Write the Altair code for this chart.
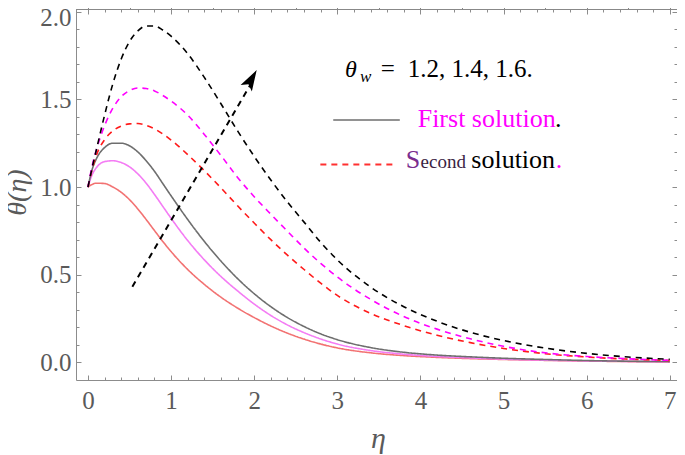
import altair as alt
import pandas as pd

# ---------------- data ----------------
eta = [0, 0.05, 0.1, 0.2, 0.3, 0.4, 0.5, 0.6, 0.7, 0.8, 0.9, 1.0, 1.2, 1.4, 1.6,
       1.8, 2.0, 2.2, 2.4, 2.6, 2.8, 3.0, 3.4, 3.8, 4.2, 4.6, 5.0, 5.5, 6.0, 6.5, 7.0]

# first solution (solid), theta_w = 1.2, 1.4, 1.6
first_12 = [1.0, 1.015, 1.022, 1.02, 1.0, 0.97, 0.928, 0.875, 0.815, 0.752, 0.69, 0.632,
            0.53, 0.445, 0.372, 0.31, 0.256, 0.208, 0.167, 0.133, 0.105, 0.083,
            0.055, 0.039, 0.029, 0.022, 0.017, 0.012, 0.008, 0.005, 0.003]
first_14 = [1.0, 1.07, 1.11, 1.145, 1.15, 1.14, 1.115, 1.075, 1.022, 0.958, 0.89, 0.822,
            0.695, 0.585, 0.49, 0.408, 0.333, 0.268, 0.214, 0.17, 0.134, 0.105,
            0.068, 0.047, 0.034, 0.026, 0.019, 0.013, 0.009, 0.006, 0.004]
first_16 = [1.0, 1.10, 1.16, 1.225, 1.25, 1.25, 1.235, 1.20, 1.15, 1.09, 1.02, 0.95,
            0.815, 0.69, 0.578, 0.478, 0.392, 0.318, 0.256, 0.205, 0.163, 0.13,
            0.085, 0.058, 0.042, 0.032, 0.024, 0.017, 0.011, 0.007, 0.005]
# second solution (dashed), theta_w = 1.2, 1.4, 1.6
second_12 = [1.0, 1.10, 1.18, 1.27, 1.32, 1.348, 1.36, 1.362, 1.352, 1.332, 1.303, 1.268,
             1.185, 1.093, 0.995, 0.893, 0.795, 0.70, 0.612, 0.53, 0.452, 0.382,
             0.28, 0.21, 0.155, 0.113, 0.08, 0.05, 0.031, 0.019, 0.011]
second_14 = [1.0, 1.12, 1.21, 1.35, 1.45, 1.515, 1.55, 1.565, 1.562, 1.548, 1.522, 1.49,
             1.41, 1.30, 1.18, 1.055, 0.945, 0.845, 0.748, 0.652, 0.565, 0.487,
             0.36, 0.262, 0.19, 0.135, 0.092, 0.055, 0.034, 0.021, 0.012]
second_16 = [1.0, 1.11, 1.21, 1.41, 1.59, 1.73, 1.83, 1.89, 1.918, 1.918, 1.895, 1.86,
             1.76, 1.625, 1.475, 1.32, 1.175, 1.04, 0.915, 0.80, 0.685, 0.585,
             0.43, 0.318, 0.235, 0.172, 0.125, 0.082, 0.052, 0.031, 0.018]

curve_names = ["first_1.2", "first_1.4", "first_1.6",
               "second_1.2", "second_1.4", "second_1.6"]
curve_values = [first_12, first_14, first_16, second_12, second_14, second_16]
curve_colors = ["#f27272", "#f47cf4", "#6e6e6e", "#ff1a1a", "#ff00ff", "#000000"]
curve_dash = [[1, 0], [1, 0], [1, 0], [6, 5], [6, 5], [6, 5]]
curve_width = [1.6, 1.6, 1.6, 2.0, 2.0, 2.0]

# arrow (theta_w increasing)
arrow_eta = [0.534, 2.0]
arrow_theta = [0.432, 1.62]
arrow_tip = (2.03, 1.667)

# tick values
x_major = [0, 1, 2, 3, 4, 5, 6, 7]
x_minor = [round(i * 0.2, 1) for i in range(0, 36) if i % 5 != 0]
y_major = [0.0, 0.5, 1.0, 1.5, 2.0]
y_minor = [round(i * 0.1, 1) for i in range(0, 21) if i % 5 != 0]

X_DOM = [-0.144, 7.087]
Y_DOM = [-0.1, 2.015]

SERIF = "Liberation Serif"
GRAY_TXT = "#5a5a5a"
FRAME = "#8c8c8c"

rows = []
for name, vals in zip(curve_names, curve_values):
    for x, y in zip(eta, vals):
        rows.append({"eta": x, "theta": y, "curve": name})
df = pd.DataFrame(rows)

xs = alt.Scale(domain=X_DOM, nice=False, zero=False)
ys = alt.Scale(domain=Y_DOM, nice=False, zero=False)

# ---------------- main curves + label axes ----------------
lines = alt.Chart(df).mark_line(interpolate="monotone").encode(
    x=alt.X("eta:Q", scale=xs,
            axis=alt.Axis(orient="bottom", values=x_major, ticks=False, domain=False, grid=False,
                          labelFont=SERIF, labelFontSize=25, labelColor=GRAY_TXT,
                          labelPadding=8, labelFlush=False, labelOverlap=False,
                          title="η", titleFont=SERIF, titleFontSize=30, titleFontStyle="italic",
                          titleFontWeight="normal", titleColor=GRAY_TXT,
                          titleX=302, titleY=67, titleBaseline="alphabetic", titleAlign="center")),
    y=alt.Y("theta:Q", scale=ys,
            axis=alt.Axis(orient="left", values=y_major, format=".1f", ticks=False, domain=False,
                          grid=False, labelFont=SERIF, labelFontSize=25, labelColor=GRAY_TXT,
                          labelPadding=5, labelFlush=False, labelOverlap=False,
                          labelOffset={"condition": {"test": "datum.value >= 2", "value": 6},
                                       "value": 0},
                          title="θ(η)", titleFont=SERIF, titleFontSize=28, titleFontStyle="italic",
                          titleFontWeight="normal", titleColor=GRAY_TXT,
                          titleX=-59, titleY=183, titleAngle=270, titleBaseline="middle",
                          titleAlign="center")),
    color=alt.Color("curve:N", scale=alt.Scale(domain=curve_names, range=curve_colors), legend=None),
    strokeDash=alt.StrokeDash("curve:N", scale=alt.Scale(domain=curve_names, range=curve_dash),
                              legend=None),
    strokeWidth=alt.StrokeWidth("curve:N", scale=alt.Scale(domain=curve_names, range=curve_width),
                                legend=None),
)

# ---------------- inward ticks on all four sides ----------------
dummy = pd.DataFrame({"eta": [1.0], "theta": [1.0]})


def tick_layer(xorient, xvals, xsize, yorient, yvals, ysize):
    return alt.Chart(dummy).mark_point(opacity=0).encode(
        x=alt.X("eta:Q", scale=xs,
                axis=alt.Axis(orient=xorient, values=xvals, labels=False, domain=False, grid=False,
                              ticks=True, tickSize=xsize, offset=-xsize, tickColor=FRAME,
                              tickWidth=1, title=None)),
        y=alt.Y("theta:Q", scale=ys,
                axis=alt.Axis(orient=yorient, values=yvals, labels=False, domain=False, grid=False,
                              ticks=True, tickSize=ysize, offset=-ysize, tickColor=FRAME,
                              tickWidth=1, title=None)),
    )


ticks_a = tick_layer("bottom", x_major, 5, "left", y_major, 5)
ticks_b = tick_layer("bottom", x_minor, 3, "left", y_minor, 3)
ticks_c = tick_layer("top", x_major, 5, "right", y_major, 5)
ticks_d = tick_layer("top", x_minor, 3, "right", y_minor, 3)

# ---------------- arrow ----------------
arrow_df = pd.DataFrame({"eta": arrow_eta, "theta": arrow_theta})
arrow_line = alt.Chart(arrow_df).mark_line(color="black", strokeWidth=2, strokeDash=[6, 5]).encode(
    x=alt.X("eta:Q", scale=xs), y=alt.Y("theta:Q", scale=ys))
head_df = pd.DataFrame({"eta": [arrow_tip[0]], "theta": [arrow_tip[1]]})
arrow_head = alt.Chart(head_df).mark_point(
    shape="M0,0 L0.65,2.1 L0,1.65 L-0.65,2.1 Z", size=400, angle=29.9, filled=True,
    color="black", opacity=1, strokeWidth=0).encode(
    x=alt.X("eta:Q", scale=xs), y=alt.Y("theta:Q", scale=ys))

# ---------------- legend-like annotations ----------------
leg_solid = pd.DataFrame({"eta": [2.951, 3.752], "theta": [1.382, 1.382]})
leg_dash = pd.DataFrame({"eta": [2.796, 3.692], "theta": [1.128, 1.128]})
leg_solid_line = alt.Chart(leg_solid).mark_line(color="#6e6e6e", strokeWidth=1.6).encode(
    x=alt.X("eta:Q", scale=xs), y=alt.Y("theta:Q", scale=ys))
leg_dash_line = alt.Chart(leg_dash).mark_line(color="#ff3030", strokeWidth=2,
                                              strokeDash=[6, 5]).encode(
    x=alt.X("eta:Q", scale=xs), y=alt.Y("theta:Q", scale=ys))

ann_italic = pd.DataFrame([
    {"eta": 3.094, "theta": 1.627, "label": "θ", "size": 24, "color": "#000000"},
    {"eta": 3.274, "theta": 1.600, "label": "w", "size": 17, "color": "#000000"},
])
ann_normal = pd.DataFrame([
    {"eta": 3.524, "theta": 1.627, "label": "=", "size": 25, "color": "#000000"},
    {"eta": 3.847, "theta": 1.627, "label": "1.2, 1.4, 1.6.", "size": 25, "color": "#000000"},
    {"eta": 3.967, "theta": 1.342, "label": "First solution", "size": 26, "color": "#ff00ff"},
    {"eta": 5.620, "theta": 1.342, "label": ".", "size": 26, "color": "#000000"},
    {"eta": 3.823, "theta": 1.108, "label": "S", "size": 26, "color": "#7a2e8e"},
    {"eta": 4.002, "theta": 1.108, "label": "econd", "size": 19, "color": "#3b1f44"},
    {"eta": 4.612, "theta": 1.108, "label": "solution", "size": 26, "color": "#000000"},
    {"eta": 5.627, "theta": 1.108, "label": ".", "size": 26, "color": "#ff00ff"},
])


def text_layer(data, style):
    return alt.Chart(data).mark_text(font=SERIF, align="left", baseline="alphabetic",
                                     fontStyle=style).encode(
        x=alt.X("eta:Q", scale=xs),
        y=alt.Y("theta:Q", scale=ys),
        text="label:N",
        size=alt.Size("size:Q", scale=None, legend=None),
        color=alt.Color("color:N", scale=None, legend=None),
    )


texts_i = text_layer(ann_italic, "italic")
texts_n = text_layer(ann_normal, "normal")

chart = alt.layer(
    lines, ticks_a, ticks_b, ticks_c, ticks_d, arrow_line, arrow_head,
    leg_solid_line, leg_dash_line, texts_i, texts_n
).resolve_axis(
    x="independent", y="independent"
).properties(
    width=601, height=371,
    background="white",
    autosize=alt.AutoSizeParams(type="none"),
    padding={"left": 68, "top": 1, "right": 0, "bottom": 75},
).configure_view(
    stroke=FRAME, strokeWidth=1
)

chart.save("out.html", embed_options={"renderer": "svg", "actions": False})
